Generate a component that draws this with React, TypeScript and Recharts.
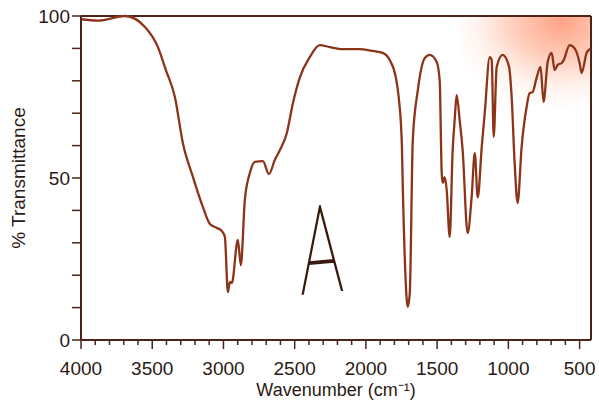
import { Line, LineChart, ReferenceArea, ReferenceLine, XAxis, YAxis } from 'recharts'

const FONT = '"Liberation Sans", Arial, Helvetica, sans-serif'
const INK = '#2b1a14'
const AXIS = '#4a2418'
const TRACE = '#8c3418'

// wavenumber (cm-1) / % transmittance
const wavenumbers = [
  4000, 3881, 3691, 3551, 3460, 3404, 3341, 3285, 3214, 3144, 3095, 3046, 3011, 2990, 2969,
  2955, 2941, 2899, 2878, 2850, 2815, 2780, 2723, 2681, 2639, 2604, 2555, 2513, 2464, 2394,
  2324, 2254, 2162, 2043, 1952, 1882, 1833, 1791, 1770, 1748, 1741, 1713, 1706, 1692, 1671,
  1636, 1587, 1552, 1503, 1482, 1468, 1461, 1447, 1433, 1412, 1391, 1377, 1363, 1342, 1321,
  1286, 1258, 1236, 1215, 1187, 1166, 1131, 1117, 1103, 1082, 1040, 995, 977, 956, 935, 907,
  872, 851, 830, 802, 774, 753, 724, 696, 675, 654, 626, 612, 570, 535, 500, 486, 451, 423,
]
const transmittance = [
  99, 98.6, 100, 96.6, 90.4, 83.3, 75, 60.8, 50.3, 41, 35.8, 34.6, 33.6, 31.8, 14.8, 17.9,
  17.6, 30.9, 23.1, 43.2, 51.5, 55, 55.2, 51.2, 55.6, 58.6, 63.9, 73, 81, 87.3, 91, 90.4,
  89.8, 89.8, 89.2, 88.6, 86.4, 81.2, 75, 60.8, 47, 12.3, 10.2, 14.5, 61.7, 77, 87, 88, 85.8,
  80, 51.5, 48.5, 50.3, 46.3, 31.8, 58.6, 67.9, 75.6, 67.9, 58.6, 33, 44, 57.7, 44, 59.6, 70,
  87.3, 86.4, 62.7, 84.3, 88, 84.3, 75, 54.6, 42.3, 59.6, 71.9, 76.2, 76.5, 80.9, 84.3, 73.5,
  85.8, 88.6, 83.3, 84.9, 85.5, 86.4, 91, 90, 85.5, 82.4, 88.6, 90,
]

const majorXTicks = [4000, 3500, 3000, 2500, 2000, 1500, 1000, 500]
const yTicks = [0, 10, 20, 30, 40, 50, 60, 70, 80, 90, 100]
const yLabels = [0, 50, 100]

const xTicks: number[] = []
for (let v = 4000; v >= 500; v -= 100) xTicks.push(v)

const data = wavenumbers.map((wn, i) => ({ wn, t: transmittance[i] }))

function XTick({ x, y, payload }: any) {
  const major = majorXTicks.includes(payload.value)
  return (
    <g>
      <line x1={x} x2={x} y1={y} y2={y + (major ? 9 : 5)} stroke={AXIS} strokeWidth={1.5} />
      {major && (
        <text x={x} y={y + 35} textAnchor="middle" fontSize={19} fill={INK} fontFamily={FONT}>
          {payload.value}
        </text>
      )}
    </g>
  )
}

export default function App() {
  return (
    <div style={{ position: 'absolute', left: 0, top: 0, width: 599, height: 406, background: '#fff' }}>
      <LineChart width={599} height={406} data={data} margin={{ top: 16, right: 8, bottom: 0, left: 0 }}>
        <defs>
          <radialGradient id="smudge" cx="0.78" cy="0.05" r="0.85">
            <stop offset="0%" stopColor="#ff7a50" stopOpacity={0.7} />
            <stop offset="40%" stopColor="#ff8a60" stopOpacity={0.45} />
            <stop offset="75%" stopColor="#ff9a70" stopOpacity={0.12} />
            <stop offset="100%" stopColor="#ff9a70" stopOpacity={0} />
          </radialGradient>
        </defs>
        <ReferenceArea x1={1350} x2={420} y1={68} y2={100} fill="url(#smudge)" fillOpacity={1} stroke="none" />
        <XAxis
          dataKey="wn"
          type="number"
          domain={[420, 4000]}
          reversed
          ticks={xTicks}
          interval={0}
          tick={<XTick />}
          tickLine={false}
          tickSize={0}
          tickMargin={0}
          height={66}
          axisLine={{ stroke: AXIS, strokeWidth: 2 }}
          label={{
            value: 'Wavenumber (cm⁻¹)',
            position: 'insideBottom',
            offset: 10,
            fontSize: 18,
            fill: INK,
            fontFamily: FONT,
          }}
        />
        <YAxis
          type="number"
          domain={[0, 100]}
          ticks={yTicks}
          interval={0}
          width={81}
          tickSize={9}
          tickMargin={2}
          tickFormatter={(v) => (yLabels.includes(v) ? String(v) : '')}
          tick={{ fontSize: 19, fill: INK, fontFamily: FONT }}
          tickLine={{ stroke: AXIS, strokeWidth: 1.5 }}
          axisLine={{ stroke: AXIS, strokeWidth: 2 }}
          label={{
            value: '% Transmittance',
            angle: -90,
            position: 'insideLeft',
            offset: 18,
            style: { textAnchor: 'middle' },
            fontSize: 19,
            fill: INK,
            fontFamily: FONT,
          }}
        />
        <ReferenceLine y={100} stroke={AXIS} strokeWidth={2} />
        <ReferenceLine x={420} stroke={AXIS} strokeWidth={2} />
        <Line
          type="monotone"
          dataKey="t"
          stroke={TRACE}
          strokeWidth={2.3}
          dot={false}
          isAnimationActive={false}
        />
      </LineChart>
      <div
        style={{
          position: 'absolute',
          left: 298,
          top: 186,
          fontFamily: 'Lato, sans-serif',
          fontWeight: 100,
          fontSize: 122,
          lineHeight: 1,
          color: '#3a1a10',
          WebkitTextStroke: '2.5px #3a1a10',
          transform: 'scaleX(0.55) rotate(-3deg)',
          transformOrigin: 'left top',
        }}
      >
        A
      </div>
    </div>
  )
}
